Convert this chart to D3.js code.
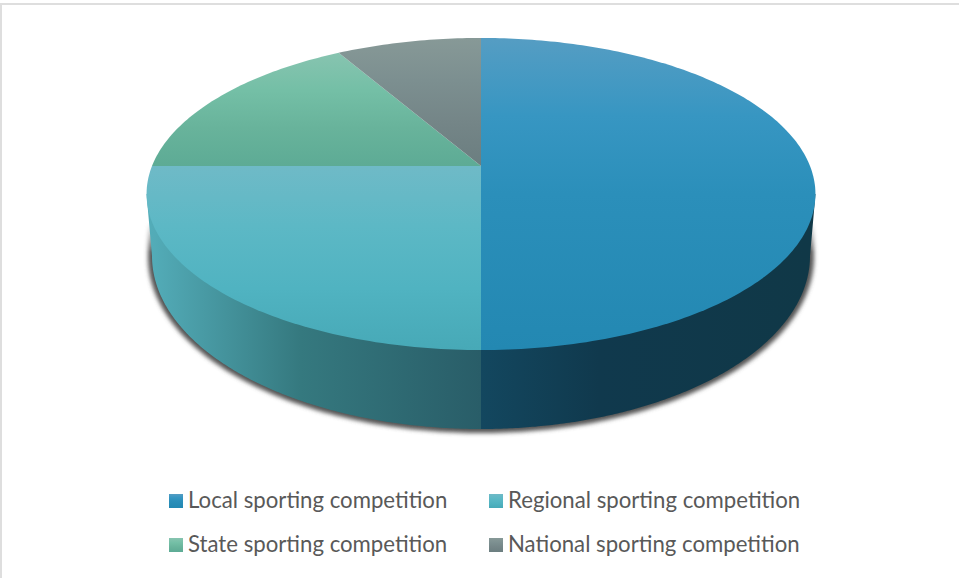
<!DOCTYPE html>
<html><head><meta charset="utf-8">
<script src="https://cdn.jsdelivr.net/npm/d3@7/dist/d3.min.js"></script>
<style>html,body{margin:0;padding:0;background:#fff;overflow:hidden}svg{display:block}</style>
</head><body><svg id="c" width="959" height="578"></svg>
<script>
const categories = ["Local sporting competition","Regional sporting competition","State sporting competition","National sporting competition"];
const shares = [50, 25, 16.67, 8.33];
const topStops = [
  ["#559dc3","#3796c2","#2b8fba","#2388b2"],
  ["#6fbac7","#5cb8c5","#50b3c1","#47a9b7"],
  ["#87c4b0","#74bfa6","#68b39b","#5dab95"],
  ["#879997","#7c8f90","#748587","#6b7e80"]
];
const sideStops = [
  ["#13475f","#10394d","#103847"],
  ["#53acb8","#35797f","#295d68"]
];

const W = 959, H = 578, CX = 481, CY = 166;
const A = 329, B = 151, K = 0.1795;            // perspective disc
const BCY = 256, BRX = 329, BRY = 173;         // lower rim ellipse
const TOPMID = 194;

const svg = d3.select("#c");
const defs = svg.append("defs");

const pie = d3.pie().sort(null).value(d => d);
const arcs = pie(shares);

const disc = a => {
  const u = Math.sin(a), v = -Math.cos(a), w = 1 - K * v;
  return [CX + A * u / w, CY + B * v / w];
};
const rim = a => [CX + BRX * Math.sin(a), BCY - BRY * Math.cos(a)];
const sweep = (a0, a1, n = 180) => d3.range(n + 1).map(i => a0 + (a1 - a0) * i / n);
const line = d3.line();

// frame
svg.append("rect").attr("width", W).attr("height", H).attr("fill", "#fff");
svg.append("rect").attr("x", 0).attr("y", 3).attr("width", W).attr("height", 2).attr("fill", "#dedede");
svg.append("rect").attr("x", 0).attr("y", 3).attr("width", 2).attr("height", H).attr("fill", "#dedede");

// gradients
const topOffsets = [0, 0.25, 0.5, 1];
topStops.forEach((s, i) => {
  const g = defs.append("linearGradient").attr("id", "top" + i)
    .attr("x1", 0).attr("y1", 0).attr("x2", 0).attr("y2", 1);
  s.forEach((c, j) => g.append("stop").attr("offset", i === 0 ? topOffsets[j] : j / (s.length - 1)).attr("stop-color", c));
});
const sideX = [[CX, CX + BRX], [CX - BRX, CX]];
sideStops.forEach((s, i) => {
  const g = defs.append("linearGradient").attr("id", "side" + i).attr("gradientUnits", "userSpaceOnUse")
    .attr("x1", sideX[i][0]).attr("x2", sideX[i][1]).attr("y1", 0).attr("y2", 0);
  const off = i === 0 ? [0, 0.36, 1] : [0, 0.45, 1];
  s.forEach((c, j) => g.append("stop").attr("offset", off[j]).attr("stop-color", c));
});
defs.append("filter").attr("id", "blur").attr("x", "-5%").attr("y", "-5%").attr("width", "110%").attr("height", "110%")
  .append("feGaussianBlur").attr("stdDeviation", 1.9);
const fade = defs.append("linearGradient").attr("id", "fade").attr("gradientUnits", "userSpaceOnUse")
  .attr("x1", 0).attr("x2", 0).attr("y1", 222).attr("y2", 252);
fade.append("stop").attr("offset", 0).attr("stop-color", "#000");
fade.append("stop").attr("offset", 1).attr("stop-color", "#fff");
defs.append("mask").attr("id", "shadowMask").attr("maskUnits", "userSpaceOnUse")
  .attr("x", 0).attr("y", 0).attr("width", W).attr("height", H)
  .append("rect").attr("width", W).attr("height", H).attr("fill", "url(#fade)");

// shadow beneath the rim
const shadowPts = sweep(Math.PI / 2, Math.PI * 1.5).map(a => [CX + (BRX + 4) * Math.sin(a), BCY + 1 - (BRY + 3) * Math.cos(a)]);
svg.append("g").attr("mask", "url(#shadowMask)").append("path")
  .attr("d", line([[CX + BRX + 3, 215], ...shadowPts, [CX - BRX - 3, 215]]) + "Z")
  .attr("fill", "#555555").attr("filter", "url(#blur)");

// visible side walls
const hpi = Math.PI / 2;
arcs.forEach((d, i) => {
  const a0 = Math.max(d.startAngle, hpi), a1 = Math.min(d.endAngle, 3 * hpi);
  if (a1 <= a0) return;
  const pts = sweep(a0, a1).map(rim);
  const cap = [];
  if (a0 === hpi) cap.push([CX + 334.5, TOPMID]);
  if (a1 === 3 * hpi) cap.push([CX - 334.5, TOPMID]);
  const poly = a0 === hpi
    ? [[CX, TOPMID], cap[0], ...pts]
    : [...pts, cap[0], [CX, TOPMID]];
  svg.append("path").attr("d", line(poly) + "Z").attr("fill", `url(#side${i})`);
});

// top surface
arcs.forEach((d, i) => {
  const n = Math.max(8, Math.round((d.endAngle - d.startAngle) * 60));
  const pts = [[CX, CY], ...sweep(d.startAngle, d.endAngle, n).map(disc)];
  svg.append("path").attr("d", line(pts) + "Z").attr("fill", `url(#top${i})`);
});

// legend
const legX = d3.scaleOrdinal().domain([0, 1]).range([169, 489]);
const legY = d3.scaleOrdinal().domain([0, 1]).range([494, 538]);
const leg = svg.append("g").selectAll("g").data(categories).join("g")
  .attr("transform", (d, i) => `translate(${legX(i % 2)},${legY(i >> 1)})`);
leg.append("rect").attr("width", 14).attr("height", 14).attr("fill", (d, i) => `url(#top${i})`);
leg.append("text").attr("x", 19).attr("y", 14).text(d => d)
  .attr("font-family", "Lato, 'Open Sans', sans-serif").attr("font-size", 22.2).attr("fill", "#595959");
</script></body></html>
